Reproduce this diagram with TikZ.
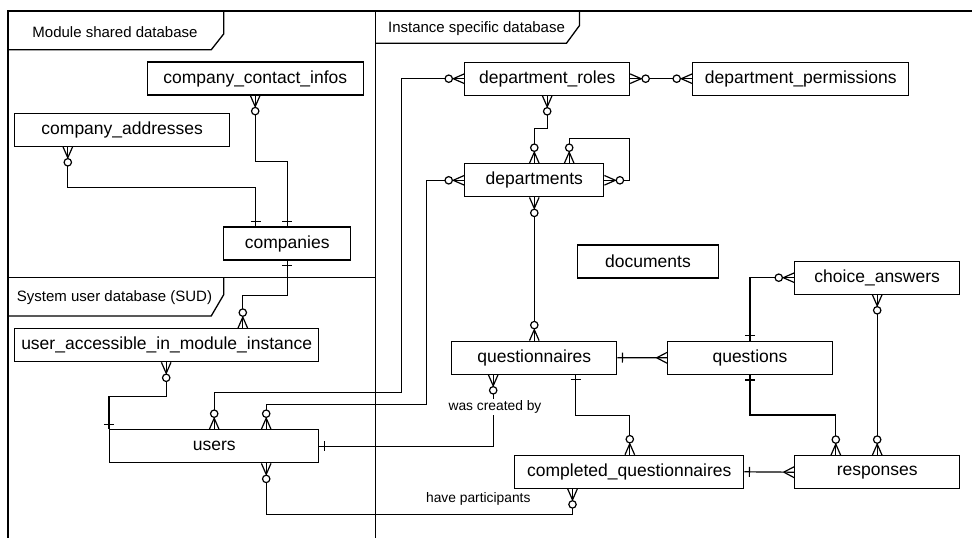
\documentclass[tikz,border=0pt]{standalone}
\usepackage{fontspec}
\setmainfont{Liberation Sans}
\usetikzlibrary{decorations.markings}
\tikzset{
  ent/.style={draw, line width=1.2pt, inner sep=0pt, minimum height=33pt, font=\fontsize{17.5}{20}\selectfont},
  grp/.style={inner sep=0pt, font=\fontsize{15}{18}\selectfont},
  lbl/.style={fill=white, inner sep=2pt, font=\fontsize{13.8}{16}\selectfont},
  frame/.style={line width=1.3pt},
  conn/.style={line width=1.2pt},
  zmS/.style={postaction={decorate,decoration={markings,mark=at position 0 with {\draw[line width=1.2pt] (11,0)--(0,4.8) (11,0)--(0,-4.8); \draw[line width=1.2pt,fill=white] (15.5,0) circle[radius=3.7pt];}}}},
  zmE/.style={postaction={decorate,decoration={markings,mark=at position 1 with {\draw[line width=1.2pt] (-11,0)--(0,4.8) (-11,0)--(0,-4.8); \draw[line width=1.2pt,fill=white] (-15.5,0) circle[radius=3.7pt];}}}},
  oneS/.style={postaction={decorate,decoration={markings,mark=at position 0 with {\draw[line width=1.2pt] (5,5)--(5,-5);}}}},
  oneE/.style={postaction={decorate,decoration={markings,mark=at position 1 with {\draw[line width=1.2pt] (-5,5)--(-5,-5);}}}},
  manyE/.style={postaction={decorate,decoration={markings,mark=at position 1 with {\draw[line width=1.2pt] (-10.5,0)--(0,5.5) (-10.5,0)--(0,-5.5);}}}},
}
\begin{document}
\begin{tikzpicture}[x=1pt, y=-1pt, line join=miter]
\useasboundingbox (0,0) rectangle (972,538);
\clip (0,0) rectangle (972,538);
\fill[white] (0,0) rectangle (972,538);
\begin{scope}[shift={(0.5,0.5)}]
% frames
\draw[frame] (7.5,10.5) rectangle (375,277);
\draw[frame] (7.5,277) rectangle (375,560);
\draw[frame] (375,10.5) rectangle (990,560);
\draw[frame] (223.3,10.5) -- (223.3,33.3) -- (210.7,49.3) -- (7.5,49.3);
\node[grp] (tabM) at (114.5,31.5) {Module shared database};
\draw[frame] (223.3,277) -- (223.3,294) -- (210.7,315.5) -- (7.5,315.5);
\node[grp] (tabS) at (114,297) {System user database (SUD)};
\draw[frame] (579,10.5) -- (579,25) -- (566,42.7) -- (375,42.7);
\node[grp] (tabI) at (476,28) {Instance specific database};

% entities
\node[ent, minimum width=216pt] (cci) at (254.7,78) {company\_contact\_infos};
\node[ent, minimum width=215.3pt] (cad) at (121.7,129.2) {company\_addresses};
\node[ent, minimum width=126.7pt] (comp) at (286.7,243) {companies};
\node[ent, minimum width=304.3pt] (uaimi) at (166.2,344.7) {user\_accessible\_in\_module\_instance};
\node[ent, minimum width=209.3pt] (users) at (213.7,445.8) {users};
\node[ent, minimum width=164.7pt] (droles) at (546.7,78.2) {department\_roles};
\node[ent, minimum width=216pt] (dperm) at (800.3,78.2) {department\_permissions};
\node[ent, minimum width=139pt] (depts) at (533.8,179.8) {departments};
\node[ent, minimum width=140.4pt] (docs) at (647.5,261) {documents};
\node[ent, minimum width=164.7pt] (choice) at (876.7,277.2) {choice\_answers};
\node[ent, minimum width=164.4pt] (quest) at (749.5,357.3) {questions};
\node[ent, minimum width=165pt] (qnaires) at (533.8,357.2) {questionnaires};
\node[ent, minimum width=229pt] (cq) at (628.8,471.3) {completed\_questionnaires};
\node[ent, minimum width=164.7pt] (resp) at (876.7,471.7) {responses};

% connectors
\draw[conn, zmS, oneE] ([xshift=-54.4pt]cad.south) -- ++(0,40.5) -| ([xshift=-31.7pt]comp.north);
\draw[conn, zmS, oneE] (cci.south) -- ++(0,66) -| (comp.north);
\draw[conn, oneS, zmE] (comp.south) -- ++(0,34.7) -| ([xshift=76.1pt]uaimi.north);
\draw[conn, zmS, oneE] ([xshift=-0.5pt]uaimi.south) -- ++(0,34.3) -| (users.north west);
\draw[conn, zmS, zmE] (droles.west) -| (401,391.7) -| (users.north);
\draw[conn, zmS, zmE] (depts.west) -| (426,404.3) -| ([xshift=52pt]users.north);
\draw[conn, zmS, zmE] (droles.east) -- (dperm.west);
\draw[conn, zmS, zmE] (droles.south) -- ++(0,33) -| (depts.north);
\draw[conn, zmS, zmE] ([xshift=34.9pt]depts.north) |- (629,137.7) |- (depts.east);
\draw[conn, zmS, zmE] (depts.south) -- (qnaires.north);
\draw[conn, zmS, oneE] ([xshift=-41.1pt]qnaires.south) |- (users.east);
\draw[conn, zmS, zmE] ([xshift=-56.8pt]cq.south) -- ++(0,25.3) -| ([xshift=52pt]users.south);
\draw[conn, oneS, manyE] (qnaires.east) -- (quest.west);
\draw[conn, oneS, zmE] (quest.north) |- (choice.west);
\draw[conn, oneS, zmE] (quest.south) -- ++(0,40) -| ([xshift=-41.4pt]resp.north);
\draw[conn, zmS, zmE] (choice.south) -- (resp.north);
\draw[conn, oneS, zmE] ([xshift=41.2pt]qnaires.south) -- ++(0,41) -| ([xshift=0.5pt]cq.north);
\draw[conn, oneS, manyE] (cq.east) -- (resp.west);

% labels
\node[lbl] (created) at (494.5,406.5) {was created by};
\node[inner sep=0pt, font=\fontsize{13.8}{16}\selectfont] (particip) at (477.8,498.3) {have participants};
\end{scope}
\end{tikzpicture}
\end{document}
